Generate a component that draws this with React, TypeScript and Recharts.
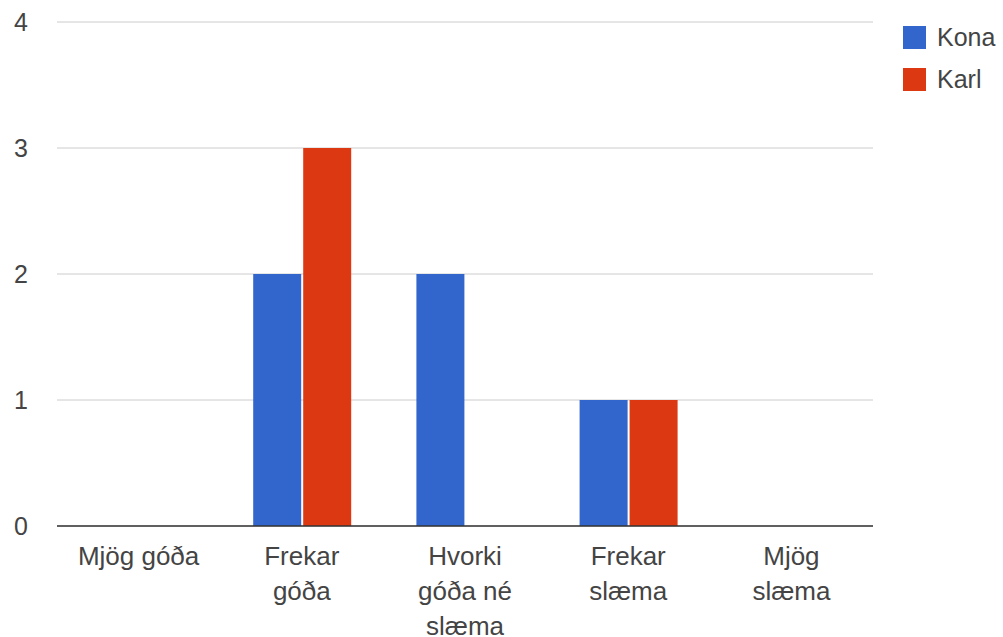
import { BarChart, Bar, XAxis, YAxis, CartesianGrid } from "recharts";

const categories = ["Mjög góða", "Frekar góða", "Hvorki góða né slæma", "Frekar slæma", "Mjög slæma"];
const tickLines = [["Mjög góða"], ["Frekar", "góða"], ["Hvorki", "góða né", "slæma"], ["Frekar", "slæma"], ["Mjög", "slæma"]];
const kona = [0, 2, 2, 1, 0];
const karl = [0, 3, 0, 1, 0];
const yTicks = [0, 1, 2, 3, 4];

const series = [
  { key: "kona", name: "Kona", color: "#3366cc" },
  { key: "karl", name: "Karl", color: "#dc3912" },
];

const data = categories.map((c, i) => ({ category: c, kona: kona[i], karl: karl[i] }));

const FONT = "'Liberation Sans', Arial, sans-serif";

function CategoryTick(props: any) {
  const { x, y, payload } = props;
  const idx = categories.indexOf(payload.value);
  const lines = tickLines[idx] || [payload.value];
  return (
    <text x={x} y={y} textAnchor="middle" fill="#444" fontSize={26} fontFamily={FONT}>
      {lines.map((l, i) => (
        <tspan key={i} x={x} dy={i === 0 ? 31 : 35}>
          {l}
        </tspan>
      ))}
    </text>
  );
}

function SideLegend() {
  return (
    <div style={{ position: "absolute", left: 903, top: 16, fontFamily: FONT, fontSize: 25, color: "#444" }}>
      {series.map((s) => (
        <div key={s.key} style={{ display: "flex", alignItems: "center", height: 42 }}>
          <div style={{ width: 23, height: 23, background: s.color, marginRight: 11 }} />
          <span>{s.name}</span>
        </div>
      ))}
    </div>
  );
}

export default function App() {
  return (
    <div style={{ position: "fixed", left: 0, top: 0, width: 1003, height: 637, background: "#fff" }}>
      <BarChart
        width={1003}
        height={637}
        data={data}
        margin={{ top: 22, right: 130, bottom: 0, left: 0 }}
        barGap={2}
        barSize={48}
      >
        <CartesianGrid horizontal vertical={false} stroke="#cccccc" />
        <XAxis
          dataKey="category"
          height={111}
          axisLine={{ stroke: "#333", strokeWidth: 1.5 }}
          tickLine={false}
          interval={0}
          tick={<CategoryTick />}
        />
        <YAxis
          width={57}
          domain={[0, 4]}
          ticks={yTicks}
          axisLine={false}
          tickLine={false}
          tickSize={0}
          tickMargin={29}
          tick={{ fill: "#444", fontSize: 25, fontFamily: FONT }}
        />
        {series.map((s) => (
          <Bar key={s.key} dataKey={s.key} name={s.name} fill={s.color} isAnimationActive={false} />
        ))}
      </BarChart>
      <SideLegend />
    </div>
  );
}
